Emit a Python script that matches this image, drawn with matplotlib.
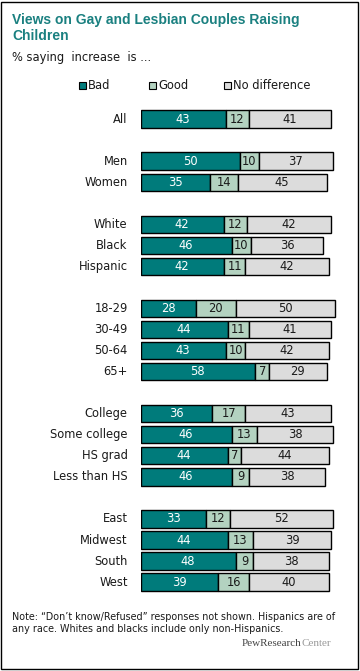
import numpy as np
import matplotlib.pyplot as plt
from matplotlib.patches import Rectangle

# values
labels = ["All", "Men", "Women", "White", "Black", "Hispanic",
          "18-29", "30-49", "50-64", "65+",
          "College", "Some college", "HS grad", "Less than HS",
          "East", "Midwest", "South", "West"]
rows = [0, 2, 3, 5, 6, 7, 9, 10, 11, 12, 14, 15, 16, 17, 19, 20, 21, 22]
bad = [43, 50, 35, 42, 46, 42, 28, 44, 43, 58, 36, 46, 44, 46, 33, 44, 48, 39]
good = [12, 10, 14, 12, 10, 11, 20, 11, 10, 7, 17, 13, 7, 9, 12, 13, 9, 16]
nodiff = [41, 37, 45, 42, 36, 42, 50, 41, 42, 29, 43, 38, 44, 38, 52, 39, 38, 40]

series = ["Bad", "Good", "No difference"]
colors = ["#007b7b", "#b3d2c0", "#dcdcdc"]
text_colors = ["white", "#1a1a1a", "#1a1a1a"]
teal_title = "#1a8080"

W, H = 360, 671
fig = plt.figure(figsize=(W / 100, H / 100), dpi=100)
fig.patch.set_facecolor("white")

# chart area in pixel coordinates
x0, px_per = 140.5, 1.98
y_top, row_h = 108.5, 21.05
ax = fig.add_axes([x0 / W, 1 - (y_top + 23 * row_h) / H, 100 * px_per / W, 23 * row_h / H])
ax.set_xlim(0, 100)
ax.set_ylim(22.5, -0.5)
ax.axis("off")

data = [bad, good, nodiff]
left = np.zeros(len(labels))
for vals, c, tc in zip(data, colors, text_colors):
    vals = np.array(vals)
    ax.barh(rows, vals, left=left, height=0.82, color=c, edgecolor="black", linewidth=1.0)
    for r, l, v in zip(rows, left, vals):
        ax.text(l + v / 2, r, str(v), ha="center", va="center", color=tc, fontsize=8.3)
    left = left + vals

for r, lab in zip(rows, labels):
    ax.text(-6.5, r, lab, ha="right", va="center", fontsize=8.3, color="#1a1a1a")

# title and subtitle
fig.text(12 / W, 1 - 28 / H, "Views on Gay and Lesbian Couples Raising\nChildren",
         ha="left", va="center", fontsize=10, fontweight="bold", color=teal_title,
         family="Liberation Sans", linespacing=1.25)
fig.text(12 / W, 1 - 57 / H, "% saying  increase  is ...", ha="left", va="center",
         fontsize=8.3, color="#1a1a1a")

# legend
leg_x = [79, 149, 224]
for lx, s, c in zip(leg_x, series, colors):
    fig.patches.append(Rectangle((lx / W, 1 - 89 / H), 7 / W, 7 / H, transform=fig.transFigure,
                                 facecolor=c, edgecolor="black", linewidth=0.8))
    fig.text((lx + 9) / W, 1 - 85.5 / H, s, ha="left", va="center", fontsize=8.3, color="#1a1a1a")

# note and source
fig.text(12 / W, 1 - 623 / H,
         "Note: \u201cDon\u2019t know/Refused\u201d responses not shown. Hispanics are of\n"
         "any race. Whites and blacks include only non-Hispanics.",
         ha="left", va="center", fontsize=6.9, color="#1a1a1a", linespacing=1.35)
fig.text(301 / W, 1 - 643 / H, "PewResearch", ha="right", va="center",
         fontsize=8, family="Liberation Serif", color="#444444")
fig.text(301 / W, 1 - 643 / H, "Center", ha="left", va="center",
         fontsize=8, family="Liberation Serif", color="#999999")

# outer frame
fig.patches.append(Rectangle((1 / W, 2 / H), 357 / W, 667 / H, transform=fig.transFigure,
                             facecolor="none", edgecolor="black", linewidth=1.0))

fig.savefig("out.png", dpi=100)
